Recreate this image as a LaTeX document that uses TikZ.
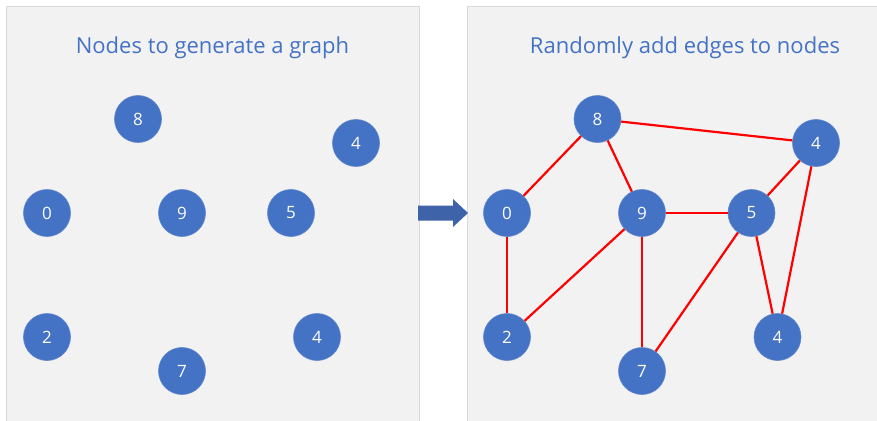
\documentclass[tikz,border=0pt]{standalone}
\usepackage{fontspec}
\setmainfont{Open Sans}
\definecolor{panelfill}{HTML}{F2F2F2}
\definecolor{panelline}{HTML}{D9D9D9}
\definecolor{nodeblue}{HTML}{4472C4}
\definecolor{titleblue}{HTML}{4472C4}
\definecolor{arrowblue}{HTML}{3F63A8}
\begin{document}
\begin{tikzpicture}[x=1pt,y=-1pt,
  panel/.style={fill=panelfill,draw=panelline,line width=1pt},
  gnode/.style={circle,fill=nodeblue,draw=nodeblue!85!white,line width=0.6pt,minimum size=47pt,inner sep=0pt,text=white,font=\fontsize{17}{17}\selectfont},
  title/.style={text=titleblue,font=\fontsize{22}{22}\selectfont,inner sep=0pt},
  edge/.style={draw=red,line width=2.2pt}]
\useasboundingbox (0,0) rectangle (877,420);
\fill[white] (0,0) rectangle (877,420);
\draw[panel] (6,7) -- (419,7) -- (419,421) -- (6,421) -- cycle;
\fill[panelfill] (467,7) rectangle (878,421);
\draw[panelline,line width=1pt] (467,421) -- (467,7) -- (878,7);
\node[title] (t1) at (212.5,48) {Nodes to generate a graph};
\node[title] (t2) at (685,48) {Randomly add edges to nodes};
% left graph
\node[gnode] (a8) at (138,119) {8};
\node[gnode] (a4) at (356,143) {4};
\node[gnode] (a0) at (47,213) {0};
\node[gnode] (a9) at (182,213) {9};
\node[gnode] (a5) at (291,213) {5};
\node[gnode] (a2) at (47,337) {2};
\node[gnode] (a7) at (182,371) {7};
\node[gnode] (a4b) at (317,337) {4};
% right graph
\node[gnode] (b8) at (597.5,119) {8};
\node[gnode] (b4) at (816,143) {4};
\node[gnode] (b0) at (507,213) {0};
\node[gnode] (b9) at (642,213) {9};
\node[gnode] (b5) at (751.5,213) {5};
\node[gnode] (b2) at (507,337) {2};
\node[gnode] (b7) at (642,371) {7};
\node[gnode] (b4b) at (777.5,337) {4};
\path[edge] (b8) -- (b0);
\path[edge] (b8) -- (b9);
\path[edge] (b8) -- (b4);
\path[edge] (b0) -- (b2);
\path[edge] (b9) -- (b2);
\path[edge] (b9) -- (b5);
\path[edge] (b9) -- (b7);
\path[edge] (b5) -- (b4);
\path[edge] (b5) -- (b7);
\path[edge] (b5) -- (b4b);
\path[edge] (b4) -- (b4b);
% arrow
\fill[arrowblue] (418,205.5) -- (453,205.5) -- (453,199) -- (468,213) -- (453,227) -- (453,220.5) -- (418,220.5) -- cycle;
\end{tikzpicture}
\end{document}
